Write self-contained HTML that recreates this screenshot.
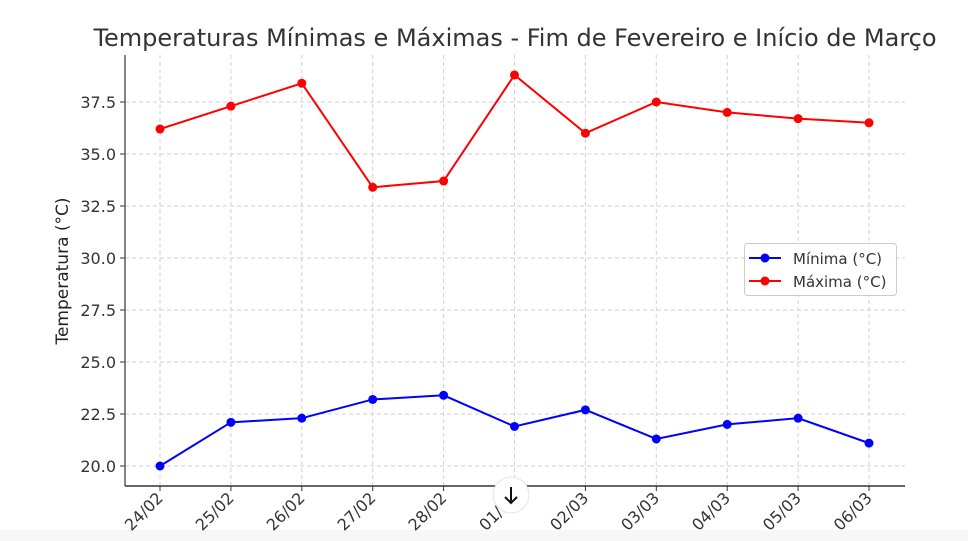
<!DOCTYPE html>
<html><head><meta charset="utf-8"><style>
html,body{margin:0;padding:0;background:#fff;}
svg{display:block;font-family:"DejaVu Sans","Liberation Sans",sans-serif;}
</style></head><body>
<svg id="chart" width="968" height="541" viewBox="0 0 968 541">
<rect x="0" y="530" width="968" height="11" fill="#f7f7f8"/>
<text x="515" y="46" text-anchor="middle" font-size="24" fill="#333">Temperaturas Mínimas e Máximas - Fim de Fevereiro e Início de Março</text>
<text transform="translate(68,271) rotate(-90)" text-anchor="middle" font-size="17" fill="#222">Temperatura (°C)</text>
<g id="grid"></g><g id="axes"></g><g id="series"></g>
<g>
<rect x="744.5" y="243.5" width="152" height="52" rx="3" fill="#fff" fill-opacity="0.85" stroke="#ccc"/>
<line x1="749" y1="258" x2="781" y2="258" stroke="blue" stroke-width="2"/><circle cx="765" cy="258" r="4.5" fill="blue"/>
<text x="793" y="264" font-size="15" fill="#333">Mínima (°C)</text>
<line x1="749" y1="281" x2="781" y2="281" stroke="red" stroke-width="2"/><circle cx="765" cy="281" r="4.5" fill="red"/>
<text x="793" y="287" font-size="15" fill="#333">Máxima (°C)</text>
</g>
<g>
<circle cx="511" cy="495" r="18" fill="#fff" stroke="#e3e3e3"/>
<path d="M511 487 V503 M505 497 L511 503 L517 497" stroke="#111" stroke-width="2" fill="none"/>
</g>
</svg>
<script>
const categories=["24/02","25/02","26/02","27/02","28/02","01/03","02/03","03/03","04/03","05/03","06/03"];
const minValues=[20.0,22.1,22.3,23.2,23.4,21.9,22.7,21.3,22.0,22.3,21.1];
const maxValues=[36.2,37.3,38.4,33.4,33.7,38.8,36.0,37.5,37.0,36.7,36.5];
const yTicks=[20.0,22.5,25.0,27.5,30.0,32.5,35.0,37.5];
const NS="http://www.w3.org/2000/svg";
function xS(i){return 160+i*(869-160)/(categories.length-1);}
function yS(v){return 466-(v-20)*(466-102)/17.5;}
function mk(parent,tag,attrs){const e=document.createElementNS(NS,tag);for(const k in attrs)e.setAttribute(k,attrs[k]);parent.appendChild(e);return e;}
const grid=document.getElementById('grid'),axes=document.getElementById('axes'),series=document.getElementById('series');
yTicks.forEach(t=>{const y=yS(t);
 const g=mk(grid,'line',{x1:125,x2:905,y1:y,y2:y,stroke:'#d0d0d0','stroke-dasharray':'4,3'});
 
 
 mk(axes,'line',{x1:120,x2:125,y1:y,y2:y,stroke:'#333'});
 const l=mk(axes,'text',{x:116,y:y+6,'text-anchor':'end','font-size':16,fill:'#333'});l.textContent=t.toFixed(1);
 
 
});
categories.forEach((c,i)=>{const x=xS(i);
 const g=mk(grid,'line',{x1:x,x2:x,y1:55,y2:486,stroke:'#d0d0d0','stroke-dasharray':'4,3'});
 
 
 mk(axes,'line',{x1:x,x2:x,y1:486,y2:491,stroke:'#333'});
 const l=mk(axes,'text',{transform:`translate(${x+4},${499}) rotate(-45)`,'text-anchor':'end','font-size':16,fill:'#333'});l.textContent=c;
 
 
});
mk(axes,'line',{x1:125,x2:125,y1:55,y2:486,stroke:'#333','stroke-width':1.2});
mk(axes,'line',{x1:125,x2:905,y1:486,y2:486,stroke:'#333','stroke-width':1.5});
function draw(vals,color,name){
 const p=mk(series,'polyline',{points:vals.map((v,i)=>xS(i)+','+yS(v)).join(' '),fill:'none',stroke:color,'stroke-width':2});
 
 
 vals.forEach((v,i)=>{const c=mk(series,'circle',{cx:xS(i),cy:yS(v),r:4.5,fill:color});
  
  });
}
draw(minValues,'blue','min');
draw(maxValues,'red','max');
</script>
</body></html>
